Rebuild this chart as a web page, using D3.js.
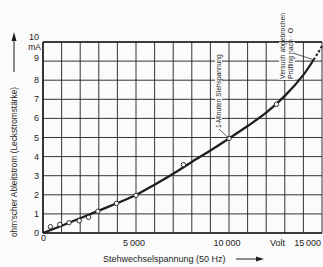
<!DOCTYPE html>
<html><head><meta charset="utf-8">
<script src="https://cdn.jsdelivr.net/npm/d3@7"></script>
<style>
html,body{margin:0;padding:0;background:#fbfbfb;}
svg{display:block;font-family:"Liberation Sans","DejaVu Sans",sans-serif;}
</style></head>
<body><svg id="c" width="323" height="267"></svg>
<script>
// Measured points (V, mA)
const measV = [400, 900, 1400, 1950, 2450, 2950, 3950, 5000, 7550, 10000, 12550];
const measI = [0.33, 0.45, 0.54, 0.64, 0.82, 1.14, 1.55, 1.97, 3.58, 4.95, 6.74];
// Fitted curve (solid part)
const curveV = [0, 1000, 2000, 3000, 4000, 5000, 6000, 7000, 8000, 9000, 10000, 11000, 12000, 13000, 14000, 14550];
const curveI = [0, 0.38, 0.77, 1.17, 1.57, 1.99, 2.53, 3.1, 3.72, 4.32, 4.95, 5.6, 6.3, 7.18, 8.28, 9.07];
// Dashed continuation
const dashV = [14550, 14800, 15000];
const dashI = [9.07, 9.45, 9.8];
const xTicks = [0, 5000, 10000, 15000];
const xTickLabels = ["0", "5\u2009000", "10\u2009000", "15\u2009000"];
const yTicks = [0,1,2,3,4,5,6,7,8,9,10];
const yTickLabels = ["0","1","2","3","4","5","6","7","8","9","10"];

const svg = d3.select("#c");
const x = d3.scaleLinear().domain([0, 15000]).range([43, 322]);
const y = d3.scaleLinear().domain([0, 10]).range([233, 42]);
const ink = "#1e1e1e";

// grid
const g = svg.append("g");
g.selectAll("line.v").data(d3.range(0, 15001, 1000)).join("line")
  .attr("x1", d => x(d)).attr("x2", d => x(d)).attr("y1", y(0)).attr("y2", y(10))
  .attr("stroke", ink).attr("stroke-width", 0.9);
g.selectAll("line.h").data(yTicks).join("line")
  .attr("x1", x(0)).attr("x2", x(15000)).attr("y1", d => y(d)).attr("y2", d => y(d))
  .attr("stroke", ink).attr("stroke-width", 0.9);
// frame emphasis
svg.append("line").attr("x1", x(0)).attr("x2", x(0)).attr("y1", y(0)).attr("y2", y(10)).attr("stroke", ink).attr("stroke-width", 1.6);
svg.append("line").attr("x1", x(0)).attr("x2", x(15000)).attr("y1", y(0)).attr("y2", y(0)).attr("stroke", ink).attr("stroke-width", 1.6);
svg.append("line").attr("x1", x(0)).attr("x2", x(15000)).attr("y1", y(10)).attr("y2", y(10)).attr("stroke", ink).attr("stroke-width", 1.3);

// y tick labels
svg.selectAll("text.yt").data(yTicks).join("text")
  .attr("x", 39).attr("y", d => d === 10 ? y(d) - 2 : (d === 9 ? y(d) - 0 : y(d) + 3))
  .attr("text-anchor", "end").attr("font-size", 9).attr("fill", ink)
  .text((d, i) => yTickLabels[i]);
svg.append("text").attr("x", 41).attr("y", y(10) + 8).attr("text-anchor", "end")
  .attr("font-size", 8.5).attr("fill", ink).text("mA");

// x tick labels
svg.selectAll("text.xt").data(xTicks).join("text")
  .attr("x", (d, i) => i === 0 ? x(d) - 2 : (i === 3 ? x(d) - 1 : x(d) - 2))
  .attr("y", (d, i) => i === 0 ? 241 : 246)
  .attr("text-anchor", (d, i) => i === 0 ? "start" : (i === 3 ? "end" : "middle"))
  .attr("font-size", 9).attr("fill", ink)
  .text((d, i) => xTickLabels[i]);
svg.append("text").attr("x", x(12500) + 2).attr("y", 246).attr("text-anchor", "middle")
  .attr("font-size", 9).attr("fill", ink).text("Volt");

// x axis title with arrow
svg.append("text").attr("x", 103).attr("y", 262).attr("font-size", 9).attr("fill", ink)
  .text("Stehwechselspannung (50 Hz)");
svg.append("line").attr("x1", 236).attr("x2", 258).attr("y1", 259).attr("y2", 259).attr("stroke", ink).attr("stroke-width", 1);
svg.append("path").attr("d", "M256,256.5 L264,259 L256,261.5 Z").attr("fill", ink);

// y axis title with arrow (rotated)
svg.append("text").attr("transform", "translate(17,237) rotate(-90)")
  .attr("font-size", 8.3).attr("fill", ink).text("ohm'scher Ableitstrom (Leckstromstärke)");
svg.append("line").attr("x1", 14).attr("x2", 14).attr("y1", 72).attr("y2", 38).attr("stroke", ink).attr("stroke-width", 1);
svg.append("path").attr("d", "M11.5,41 L14,32 L16.5,41 Z").attr("fill", ink);

// curve
const line = d3.line().x(d => x(d[0])).y(d => y(d[1])).curve(d3.curveCatmullRom);
svg.append("path").datum(curveV.map((v, i) => [v, curveI[i]]))
  .attr("d", line).attr("fill", "none").attr("stroke", ink).attr("stroke-width", 2.3);
svg.append("path").datum(dashV.map((v, i) => [v, dashI[i]]))
  .attr("d", line).attr("fill", "none").attr("stroke", ink).attr("stroke-width", 2)
  .attr("stroke-dasharray", "2.5,2");

// measured points
svg.selectAll("circle").data(measV.map((v, i) => [v, measI[i]])).join("circle")
  .attr("cx", d => x(d[0])).attr("cy", d => y(d[1])).attr("r", 2.2)
  .attr("fill", "#fbfbfb").attr("stroke", ink).attr("stroke-width", 0.9);

// annotation: 1-Minuten Stehspannung
const a1 = [10000, 4.95];
svg.append("rect").attr("x", 215).attr("y", 49).attr("width", 7).attr("height", 80).attr("fill", "#fbfbfb");
svg.append("text").attr("transform", `translate(${x(a1[0]) - 8},128) rotate(-90)`)
  .attr("font-size", 6.6).attr("fill", ink).text("1-Minuten Stehspannung");
svg.append("line").attr("x1", x(a1[0]) - 10).attr("y1", 129).attr("x2", x(a1[0])).attr("y2", y(a1[1]))
  .attr("stroke", ink).attr("stroke-width", 0.7);

// annotation: Versuch abgebrochen
const a2 = [14550, 9.07];
svg.append("rect").attr("x", 279).attr("y", 42).attr("width", 16).attr("height", 38).attr("fill", "#fbfbfb");
svg.append("text").attr("transform", "translate(285,79) rotate(-90)")
  .attr("font-size", 6.8).attr("fill", ink).text("Versuch abgebrochen");
svg.append("text").attr("transform", "translate(293,79) rotate(-90)")
  .attr("font-size", 6.8).attr("fill", ink).text("Prüfling nach · O");
svg.append("line").attr("x1", 293).attr("y1", 53).attr("x2", x(a2[0])).attr("y2", y(a2[1]))
  .attr("stroke", ink).attr("stroke-width", 0.7);
</script></body></html>
